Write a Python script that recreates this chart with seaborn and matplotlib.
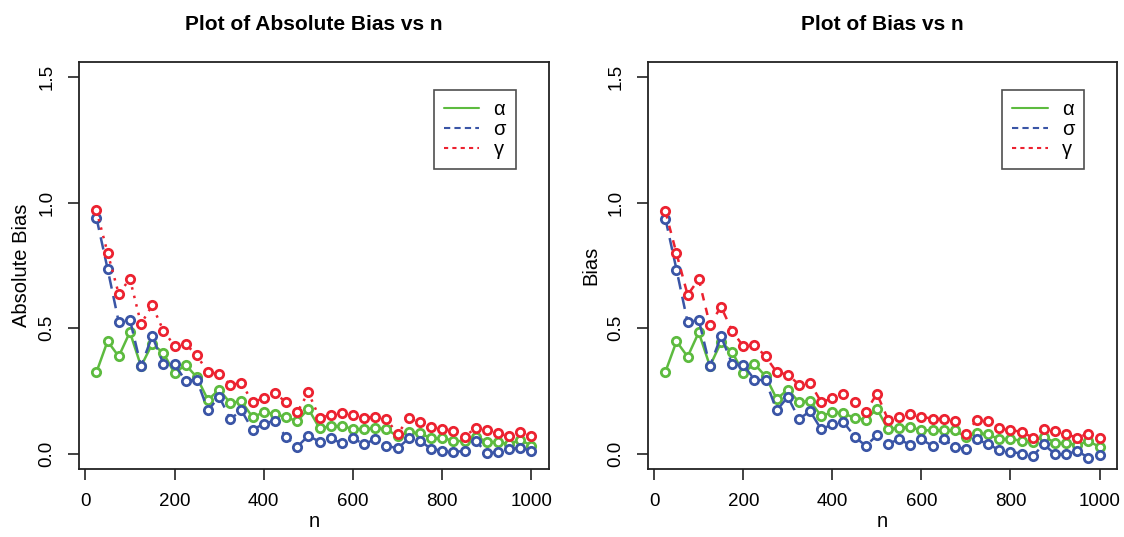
import matplotlib
matplotlib.use("Agg")
import matplotlib.pyplot as plt
from matplotlib.lines import Line2D
import seaborn as sns

sns.set_theme(style="white")
plt.rcParams['font.family'] = ['Liberation Sans', 'DejaVu Sans']
plt.rcParams['text.color'] = 'black'
plt.rcParams['axes.labelcolor'] = 'black'
plt.rcParams['xtick.color'] = 'black'
plt.rcParams['ytick.color'] = 'black'

n = [25, 50, 75, 100, 125, 150, 175, 200, 225, 250,
     275, 300, 325, 350, 375, 400, 425, 450, 475, 500,
     525, 550, 575, 600, 625, 650, 675, 700, 725, 750,
     775, 800, 825, 850, 875, 900, 925, 950, 975, 1000]

# left panel: absolute bias
alpha_abs = [0.325, 0.449, 0.388, 0.485, 0.349, 0.438, 0.402, 0.321, 0.355, 0.305,
             0.215, 0.256, 0.203, 0.210, 0.146, 0.166, 0.159, 0.146, 0.130, 0.180,
             0.102, 0.110, 0.112, 0.099, 0.099, 0.102, 0.099, 0.070, 0.086, 0.083,
             0.062, 0.063, 0.053, 0.050, 0.069, 0.049, 0.046, 0.040, 0.056, 0.033]
sigma_abs = [0.940, 0.737, 0.525, 0.535, 0.349, 0.469, 0.359, 0.356, 0.292, 0.295,
             0.173, 0.228, 0.139, 0.173, 0.096, 0.120, 0.133, 0.066, 0.029, 0.072,
             0.049, 0.062, 0.042, 0.063, 0.038, 0.060, 0.033, 0.022, 0.062, 0.053,
             0.020, 0.013, 0.009, 0.011, 0.053, 0.003, 0.007, 0.020, 0.024, 0.013]
gamma_abs = [0.969, 0.801, 0.637, 0.697, 0.518, 0.591, 0.491, 0.430, 0.438, 0.392,
             0.325, 0.319, 0.275, 0.282, 0.206, 0.222, 0.242, 0.206, 0.166, 0.245,
             0.143, 0.155, 0.163, 0.155, 0.143, 0.149, 0.139, 0.079, 0.143, 0.126,
             0.108, 0.099, 0.093, 0.069, 0.103, 0.095, 0.083, 0.070, 0.089, 0.070]

# right panel: bias
alpha_bias = [0.326, 0.448, 0.387, 0.484, 0.350, 0.444, 0.406, 0.322, 0.358, 0.309,
              0.219, 0.256, 0.207, 0.210, 0.151, 0.166, 0.161, 0.144, 0.135, 0.180,
              0.098, 0.104, 0.107, 0.094, 0.094, 0.094, 0.094, 0.067, 0.082, 0.078,
              0.058, 0.061, 0.051, 0.049, 0.069, 0.045, 0.042, 0.036, 0.051, 0.028]
sigma_bias = [0.937, 0.734, 0.524, 0.534, 0.349, 0.468, 0.358, 0.355, 0.296, 0.293,
              0.173, 0.227, 0.139, 0.170, 0.098, 0.118, 0.127, 0.069, 0.032, 0.074,
              0.041, 0.058, 0.036, 0.058, 0.032, 0.058, 0.029, 0.018, 0.058, 0.038,
              0.016, 0.009, 0.001, -0.008, 0.038, -0.001, -0.001, 0.012, -0.015, -0.005]
gamma_bias = [0.966, 0.798, 0.633, 0.695, 0.514, 0.586, 0.490, 0.428, 0.435, 0.388,
              0.325, 0.316, 0.276, 0.283, 0.206, 0.221, 0.240, 0.207, 0.167, 0.240,
              0.137, 0.148, 0.157, 0.148, 0.140, 0.140, 0.133, 0.081, 0.137, 0.131,
              0.102, 0.095, 0.088, 0.065, 0.098, 0.091, 0.078, 0.065, 0.081, 0.065]

GREEN, BLUE, RED = '#5DBB3F', '#3A55A6', '#EC2230'


def draw(ax, series, title, ylabel, red_style):
    styles = [('-', GREEN), ((0, (5, 3)), BLUE), (red_style, RED)]
    for vals, (ls, col) in zip(series, styles):
        sns.lineplot(x=n, y=vals, ax=ax, color=col, linestyle=ls, linewidth=1.8,
                     marker='o', markersize=6, markerfacecolor='white',
                     markeredgecolor=col, markeredgewidth=2)
    ax.set_xlim(-14, 1039)
    ax.set_ylim(-0.06, 1.56)
    ax.set_xticks([0, 200, 400, 600, 800, 1000])
    ax.set_yticks([0.0, 0.5, 1.0, 1.5])
    ax.set_yticklabels(['0.0', '0.5', '1.0', '1.5'], rotation=90, va='center')
    ax.tick_params(axis='both', direction='out', length=8, width=1.2,
                   labelsize=13.5, bottom=True, left=True, color='#222222')
    ax.tick_params(axis='x', pad=9)
    ax.tick_params(axis='y', pad=9)
    for s in ax.spines.values():
        s.set_color('#222222')
        s.set_linewidth(1.3)
    ax.set_title(title, fontsize=15, fontweight='bold', pad=23)
    ax.set_xlabel('n', fontsize=14.5, labelpad=2)
    ax.set_ylabel(ylabel, fontsize=14.5, labelpad=5)
    handles = [Line2D([], [], color=GREEN, lw=1.5, ls='-'),
               Line2D([], [], color=BLUE, lw=1.5, ls=(0, (3, 2))),
               Line2D([], [], color=RED, lw=1.5, ls=(0, (2, 2)))]
    leg = ax.legend(handles, ['α', 'σ', 'γ'], loc='upper right',
                    bbox_to_anchor=(0.93, 0.931), fontsize=14.5, frameon=True,
                    fancybox=False, edgecolor='#222222', handlelength=1.75,
                    borderpad=0.5, labelspacing=0.05, handletextpad=0.7,
                    borderaxespad=0)
    leg.get_frame().set_linewidth(1.2)


fig = plt.figure(figsize=(11.24, 5.37), dpi=100)
ax1 = fig.add_axes([0.0703, 0.1266, 0.418, 0.758])
ax2 = fig.add_axes([0.5765, 0.1266, 0.4172, 0.758])

draw(ax1, [alpha_abs, sigma_abs, gamma_abs], 'Plot of Absolute Bias vs n',
     'Absolute Bias', (0, (1, 2.5)))
draw(ax2, [alpha_bias, sigma_bias, gamma_bias], 'Plot of Bias vs n',
     'Bias', (0, (3, 3)))

fig.savefig('out.png', dpi=100)
